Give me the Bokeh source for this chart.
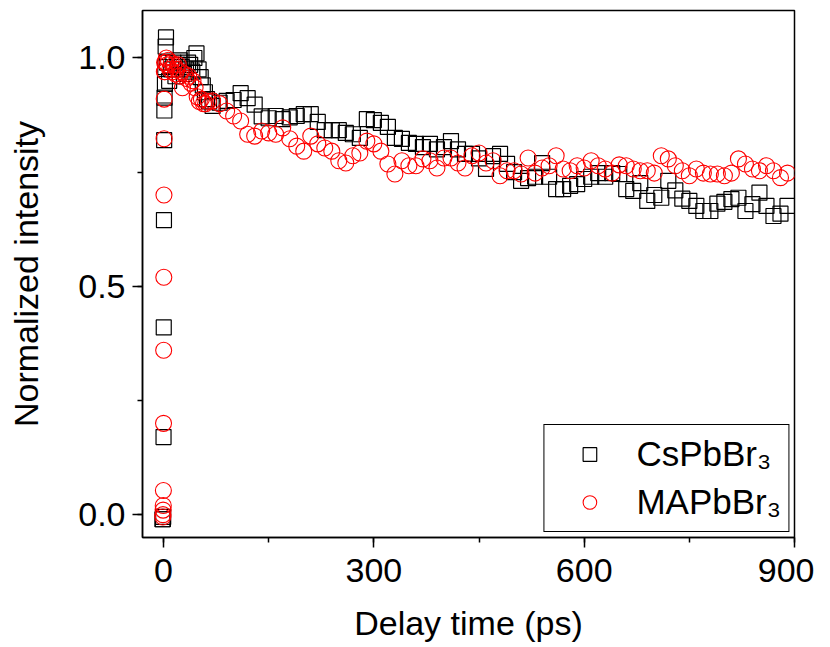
from bokeh.plotting import figure
from bokeh.models import Range1d, SingleIntervalTicker, Legend, LegendItem, PrintfTickFormatter
from bokeh.embed import file_html
from bokeh.resources import INLINE

# ---- data ----
cs_time = [-1.5, -1.0, -0.5, 0.0, 0.3, 0.6, 0.9, 1.2, 1.5, 2.0, 2.5, 3.0, 3.5,
           5, 8, 11, 14, 17, 20, 23, 26, 29, 32, 35, 38, 41, 44, 47, 50, 53, 56, 59, 62, 65,
           70, 80, 90, 100, 110, 120, 130, 140, 150, 160, 170, 180, 190, 200,
           210, 220, 230, 240, 250, 260, 270, 280, 290, 300, 310, 320, 330, 340,
           350, 360, 370, 380, 390, 400, 410, 420, 430, 440, 450, 460, 470, 480,
           490, 500, 510, 520, 530, 540, 550, 560, 570, 580, 590, 600, 610, 620,
           630, 640, 650, 660, 670, 680, 690, 700, 710, 720, 730, 740, 750, 760,
           770, 780, 790, 800, 810, 820, 830, 840, 850, 860, 870, 880, 890]
cs_int = [-0.01, -0.01, -0.005, 0.17, 0.41, 0.645, 0.82, 0.885, 0.913, 0.943, 0.98, 1.025, 1.045,
          0.99, 0.95, 0.975, 0.99, 0.96, 0.985, 0.995, 0.98, 0.965, 0.975, 0.99, 0.985, 0.97, 1.0, 1.01, 0.975, 0.958, 0.94, 0.925, 0.91, 0.905,
          0.895, 0.902, 0.906, 0.908, 0.923, 0.912, 0.898, 0.872, 0.868, 0.873, 0.866, 0.870, 0.873, 0.877,
          0.877, 0.860, 0.842, 0.842, 0.842, 0.836, 0.833, 0.825, 0.866, 0.864, 0.858, 0.849, 0.825, 0.823,
          0.814, 0.812, 0.805, 0.812, 0.800, 0.805, 0.818, 0.800, 0.790, 0.790, 0.780, 0.757, 0.785, 0.790,
          0.768, 0.750, 0.731, 0.737, 0.740, 0.770, 0.740, 0.713, 0.713, 0.720, 0.724, 0.735, 0.740, 0.748,
          0.740, 0.748, 0.746, 0.713, 0.709, 0.726, 0.687, 0.700, 0.694, 0.731, 0.710, 0.692, 0.687, 0.676,
          0.665, 0.665, 0.681, 0.685, 0.691, 0.694, 0.665, 0.680, 0.705, 0.676, 0.654, 0.659, 0.676]

ma_time = [-1.0, -0.8, -0.6, -0.4, -0.2, 0.0, 0.2, 0.4, 0.6, 0.8, 1.0, 1.2, 1.5,
           2, 3, 4, 5, 7, 9, 11, 13, 15, 17, 19, 21, 23, 25, 27, 30, 33, 36, 39, 42, 45, 48, 51, 54, 57, 60, 64,
           70, 80, 90, 100, 110, 120, 130, 140, 150, 160, 170, 180, 190, 200,
           210, 220, 230, 240, 250, 260, 270, 280, 290, 300, 310, 320, 330, 340,
           350, 360, 370, 380, 390, 400, 410, 420, 430, 440, 450, 460, 470, 480,
           490, 500, 510, 520, 530, 540, 550, 560, 570, 580, 590, 600, 610, 620,
           630, 640, 650, 660, 670, 680, 690, 700, 710, 720, 730, 740, 750, 760,
           770, 780, 790, 800, 810, 820, 830, 840, 850, 860, 870, 880, 890]
ma_int = [-0.005, 0.0, 0.01, 0.02, 0.053, 0.20, 0.36, 0.52, 0.70, 0.823, 0.91, 0.97, 0.99,
          0.97, 0.99, 1.0, 0.985, 0.995, 0.975, 0.99, 0.97, 0.985, 0.965, 0.975, 0.985, 0.96, 0.97, 0.935, 0.965, 0.955, 0.96, 0.945, 0.95, 0.935, 0.915, 0.905, 0.91, 0.90, 0.90, 0.905,
          0.906, 0.900, 0.884, 0.873, 0.862, 0.833, 0.829, 0.840, 0.836, 0.833, 0.847, 0.823, 0.807, 0.796,
          0.829, 0.812, 0.803, 0.796, 0.775, 0.770, 0.786, 0.792, 0.818, 0.812, 0.796, 0.768, 0.746, 0.775,
          0.764, 0.764, 0.779, 0.775, 0.759, 0.781, 0.781, 0.770, 0.759, 0.786, 0.792, 0.770, 0.775, 0.742,
          0.753, 0.753, 0.746, 0.781, 0.748, 0.759, 0.764, 0.786, 0.757, 0.753, 0.764, 0.759, 0.775, 0.764,
          0.757, 0.748, 0.766, 0.764, 0.757, 0.753, 0.753, 0.748, 0.786, 0.779, 0.764, 0.753, 0.742, 0.757,
          0.748, 0.746, 0.746, 0.742, 0.748, 0.779, 0.768, 0.757, 0.753, 0.764, 0.753, 0.738, 0.748]

series_labels = ["CsPbBr\u2083", "MAPbBr\u2083"]
x_label = "Delay time (ps)"
y_label = "Normalized intensity"

FONT = "Liberation Sans"

p = figure(frame_width=652, frame_height=527,
           x_range=Range1d(-30, 900), y_range=Range1d(-0.05, 1.104),
           output_backend="svg", toolbar_location=None,
           min_border_left=142, min_border_right=20, min_border_top=10, min_border_bottom=108)

p.grid.visible = False
p.outline_line_color = "black"
p.outline_line_width = 1.5
p.outline_line_alpha = 1.0

r_cs = p.scatter(cs_time, cs_int, marker="square", size=15, fill_color=None,
                 line_color="black", line_width=1.2)
r_ma = p.scatter(ma_time, ma_int, marker="circle", size=16, fill_color=None,
                 line_color="#ff0000", line_width=1.1)

p.xaxis.ticker = SingleIntervalTicker(interval=300, num_minor_ticks=2)
p.yaxis.ticker = SingleIntervalTicker(interval=0.5, num_minor_ticks=2)
p.xaxis.axis_label = x_label
p.yaxis.axis_label = y_label
p.yaxis.formatter = PrintfTickFormatter(format="%.1f")

for ax in (p.xaxis[0], p.yaxis[0]):
    ax.axis_line_width = 1.5
    ax.major_tick_line_width = 1.5
    ax.minor_tick_line_width = 1.5
    ax.major_tick_out = 10
    ax.major_tick_in = 0
    ax.minor_tick_out = 5
    ax.minor_tick_in = 0
    ax.major_label_text_font = FONT
    ax.major_label_text_font_size = "34px"
    ax.major_label_text_color = "black"
    ax.axis_label_text_font = FONT
    ax.axis_label_text_font_size = "34px"
    ax.axis_label_text_font_style = "normal"
    ax.axis_label_text_color = "black"

p.xaxis.major_label_standoff = 11
p.xaxis.axis_label_standoff = 19
p.yaxis.major_label_standoff = 7
p.yaxis.axis_label_standoff = 30

legend = Legend(items=[LegendItem(label=series_labels[0], renderers=[r_cs]),
                       LegendItem(label=series_labels[1], renderers=[r_ma])],
                location="bottom_right")
legend.margin = 5
legend.padding = 7
legend.spacing = 4
legend.label_height = 44
legend.glyph_height = 34
legend.glyph_width = 76
legend.label_standoff = 9
legend.label_text_font = FONT
legend.label_text_font_size = "35px"
legend.label_text_color = "black"
legend.border_line_color = "black"
legend.border_line_alpha = 1.0
legend.border_line_width = 1
legend.background_fill_alpha = 1.0
p.add_layout(legend)

open("out.html", "w").write(file_html(p, INLINE))
